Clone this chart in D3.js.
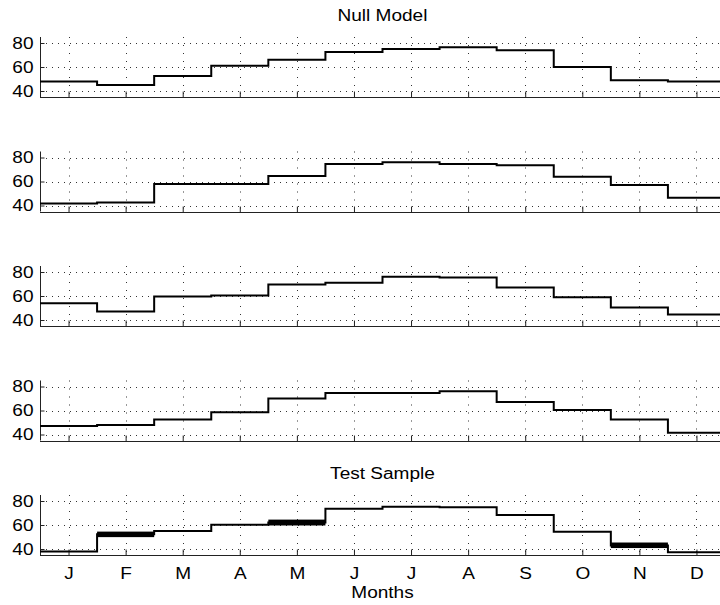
<!DOCTYPE html>
<html>
<head>
<meta charset="utf-8">
<script src="https://cdn.jsdelivr.net/npm/d3@7"></script>
<style>
html,body{margin:0;padding:0;background:#fff;}
svg{display:block;font-family:"Liberation Sans",Arial,Helvetica,sans-serif;}
</style>
</head>
<body>
<svg id="chart" width="720" height="605"></svg>
<script>
// ---- data ----
const months = ["J","F","M","A","M","J","J","A","S","O","N","D"];
const monthIndex = [1,2,3,4,5,6,7,8,9,10,11,12];
const yTicks = [40, 60, 80];
const panelTitles = ["Null Model", "", "", "", "Test Sample"];
const nullModel = [48, 45, 52.5, 61, 66, 72.5, 75, 76.5, 74, 60, 49, 48];
const sample2   = [41.7, 42.5, 58, 58, 64.5, 74.5, 76, 74.5, 73.5, 64, 57, 46.5];
const sample3   = [54, 47, 59.5, 60.5, 69.5, 71, 76, 75.5, 67, 59, 50.5, 44.5];
const sample4   = [47, 48, 52.5, 58.5, 70, 74.5, 74.5, 76, 67, 60.5, 52.5, 41.5];
const testSample = [38, 52.2, 55, 60.3, 62, 73.5, 75.3, 74.7, 68.3, 54.4, 43, 37.2];
// months where the test sample is shown as a thick band (month index, low, high)
const bandMonths = [2, 5, 11];
const bandLow  = [49.9, 59.6, 40.8];
const bandHigh = [54.5, 64.5, 45.4];
const xLabel = "Months";

const series = [nullModel, sample2, sample3, sample4, testSample];

// ---- layout ----
const svg = d3.select("#chart");
const left = 40, right = 725;
const panelBottoms = [97, 211.5, 326, 440.5, 555];
const panelH = 60;
const fs = 16, stretch = 1.19;

function stretchText(sel) {
  sel.each(function () {
    const t = d3.select(this);
    const ax = +t.attr("x") || 0;
    t.attr("transform", `translate(${ax},0) scale(${stretch},1) translate(${-ax},0)`);
  });
}

const x = d3.scaleLinear().domain([0.5, 12.5]).range([left, right]);

series.forEach((vals, p) => {
  const bottom = panelBottoms[p];
  const top = bottom - panelH;
  const y = d3.scaleLinear().domain([35, 85]).range([bottom, top]);
  const g = svg.append("g");

  // grid: horizontal
  g.selectAll("line.hg").data(yTicks).enter().append("line")
    .attr("x1", left).attr("x2", right)
    .attr("y1", d => Math.round(y(d)) + 0.5).attr("y2", d => Math.round(y(d)) + 0.5)
    .attr("stroke", "#333").attr("stroke-width", 1)
    .attr("stroke-dasharray", "1,5");
  // grid: vertical
  g.selectAll("line.vg").data(monthIndex).enter().append("line")
    .attr("x1", d => Math.round(x(d)) + 0.5).attr("x2", d => Math.round(x(d)) + 0.5)
    .attr("y1", top).attr("y2", bottom)
    .attr("stroke", "#333").attr("stroke-width", 1)
    .attr("stroke-dasharray", "1,7");

  // y axis
  const yAxis = d3.axisLeft(y).tickValues(yTicks).tickSize(-4).tickPadding(7);
  const ya = g.append("g").attr("transform", `translate(${left + 0.5},0)`).call(yAxis);
  ya.select(".domain").attr("d", `M0,${top}V${bottom}`).attr("stroke", "#222");
  ya.selectAll(".tick line").attr("stroke", "#222");
  ya.selectAll(".tick text").attr("font-size", fs).attr("fill", "#000")
    .attr("font-family", "Liberation Sans, Arial, sans-serif").call(stretchText);

  // x axis
  const xAxis = d3.axisBottom(x).tickValues(monthIndex).tickSize(-6)
    .tickFormat((d, i) => p === 4 ? months[i] : "").tickPadding(12);
  const xa = g.append("g").attr("transform", `translate(0,${Math.round(bottom) + 0.5})`).call(xAxis);
  xa.select(".domain").attr("d", `M${left},0H${right}`).attr("stroke", "#222");
  xa.selectAll(".tick line").attr("stroke", "#222");
  xa.selectAll(".tick text").attr("font-size", fs).attr("fill", "#000")
    .attr("font-family", "Liberation Sans, Arial, sans-serif").call(stretchText);

  // step line
  const pts = vals.map((v, i) => [monthIndex[i] - 0.5, v]);
  pts.push([12.5, vals[vals.length - 1]]);
  const line = d3.line().x(d => x(d[0])).y(d => y(d[1])).curve(d3.curveStepAfter);
  g.append("path").datum(pts).attr("d", line)
    .attr("fill", "none").attr("stroke", "#000").attr("stroke-width", 2);

  if (p === 4) {
    g.selectAll("rect.band").data(bandMonths).enter().append("rect")
      .attr("x", d => x(d - 0.5)).attr("width", d => x(d + 0.5) - x(d - 0.5))
      .attr("y", (d, i) => y(bandHigh[i])).attr("height", (d, i) => y(bandLow[i]) - y(bandHigh[i]))
      .attr("fill", "#000");
  }

  if (panelTitles[p]) {
    svg.append("text").attr("x", (left + right) / 2).attr("y", top - 16)
      .attr("text-anchor", "middle").attr("font-size", fs).attr("fill", "#000")
      .text(panelTitles[p]).call(stretchText);
  }
});

svg.append("text").attr("x", (left + right) / 2).attr("y", 598)
  .attr("text-anchor", "middle").attr("font-size", fs).attr("fill", "#000")
  .text(xLabel).call(stretchText);
</script>
</body>
</html>
